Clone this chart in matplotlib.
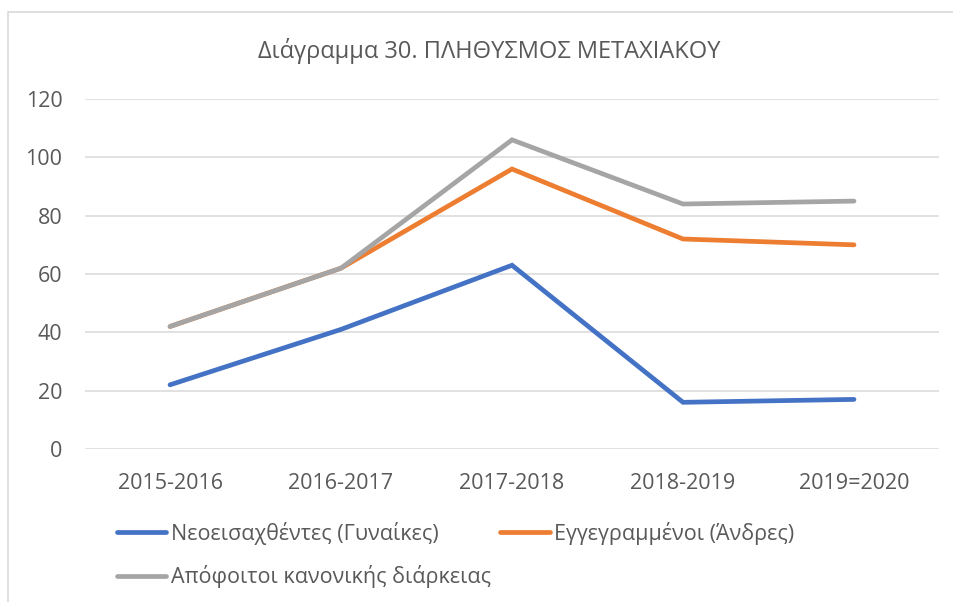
import matplotlib
matplotlib.use('Agg')
import matplotlib.pyplot as plt
from matplotlib.patches import Rectangle

plt.rcParams['font.family'] = ['Open Sans', 'DejaVu Sans']

years = ['2015-2016', '2016-2017', '2017-2018', '2018-2019', '2019=2020']
new_women = [22, 41, 63, 16, 17]
enrolled_men = [42, 62, 96, 72, 70]
graduates = [42, 62, 106, 84, 85]

labels = ['Νεοεισαχθέντες (Γυναίκες)', 'Εγγεγραμμένοι (Άνδρες)',
          'Απόφοιτοι κανονικής διάρκειας']
colors = ['#4472C4', '#ED7D31', '#A5A5A5']
txt_color = '#595959'

fig = plt.figure(figsize=(9.54, 6.02), dpi=100)
ax = fig.add_axes([0.0886, 0.2542, 0.8962, 0.5813])

x = list(range(len(years)))
lines = []
for vals, lab, col in zip([new_women, enrolled_men, graduates], labels, colors):
    ln, = ax.plot(x, vals, color=col, lw=3.4, label=lab,
                  solid_capstyle='round', solid_joinstyle='miter')
    lines.append(ln)

ax.set_xlim(-0.5, len(years) - 0.5)
ax.set_ylim(0, 120)
ax.set_yticks(range(0, 121, 20))
ax.set_xticks(x)
ax.set_xticklabels(years)
ax.grid(axis='y', color='#D9D9D9', lw=1.1)
ax.set_axisbelow(True)
for s in ax.spines.values():
    s.set_visible(False)
ax.tick_params(length=0, labelsize=15.5, colors=txt_color)
ax.tick_params(axis='x', pad=17)
ax.tick_params(axis='y', pad=16)

fig.text(0.5126, 0.915, 'Διάγραμμα 30. ΠΛΗΘΥΣΜΟΣ ΜΕΤΑΧΙΑΚΟΥ',
         ha='center', va='center', fontsize=17, color=txt_color)

# legend: row 1 blue, orange; row 2 gray
leg = fig.legend([lines[0], lines[2], lines[1]],
                 [labels[0], labels[2], labels[1]],
                 ncol=2, loc='upper left', bbox_to_anchor=(0.1226, 0.133),
                 frameon=False, fontsize=15.5, handlelength=2.3,
                 handletextpad=0.2, columnspacing=0.45, labelspacing=0.95,
                 borderaxespad=0, borderpad=0)
for t in leg.get_texts():
    t.set_color(txt_color)

fig.patches.append(Rectangle((8 / 954, -0.05), 1.0, 1 - 12 / 602 + 0.05,
                             transform=fig.transFigure, fill=False,
                             edgecolor='#D9D9D9', lw=1.2))

fig.savefig('out.png', dpi=100)
